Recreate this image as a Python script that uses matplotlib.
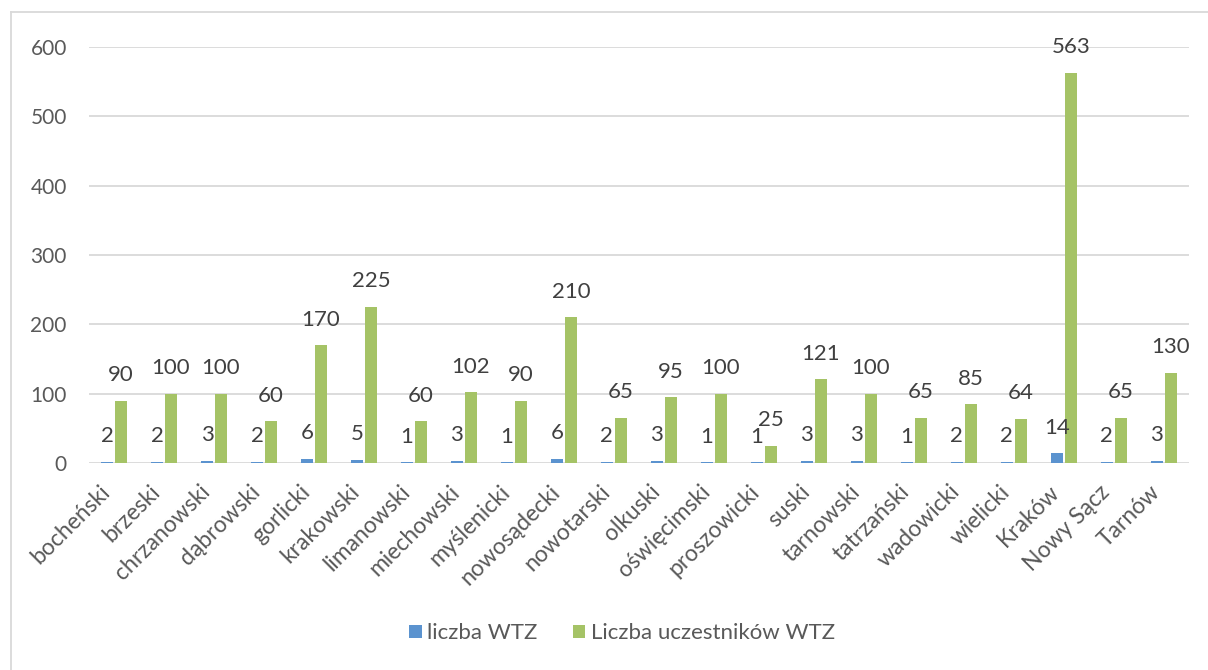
import numpy as np
import matplotlib
matplotlib.use("Agg")
import matplotlib.pyplot as plt
from matplotlib.lines import Line2D

plt.rcParams["font.family"] = ["Lato", "DejaVu Sans"]

powiaty = ["bocheński", "brzeski", "chrzanowski", "dąbrowski", "gorlicki",
           "krakowski", "limanowski", "miechowski", "myślenicki", "nowosądecki",
           "nowotarski", "olkuski", "oświęcimski", "proszowicki", "suski",
           "tarnowski", "tatrzański", "wadowicki", "wielicki", "Kraków",
           "Nowy Sącz", "Tarnów"]
liczbaWTZ = [2, 2, 3, 2, 6, 5, 1, 3, 1, 6, 2, 3, 1, 1, 3, 3, 1, 2, 2, 14, 2, 3]
uczestnicy = [90, 100, 100, 60, 170, 225, 60, 102, 90, 210, 65, 95, 100, 25,
              121, 100, 65, 85, 64, 563, 65, 130]
yTicks = [0, 100, 200, 300, 400, 500, 600]

blue = "#5b93cf"
green = "#a5c366"
textColor = "#595959"

fig = plt.figure(figsize=(12.08, 6.70), dpi=100)
ax = fig.add_axes([0.0737, 0.309, 0.9103, 0.621])

x = np.arange(len(powiaty))
w = 0.24
ax.bar(x - 0.14, liczbaWTZ, w, color=blue, label="liczba WTZ", zorder=3)
ax.bar(x + 0.14, uczestnicy, w, color=green, label="Liczba uczestników WTZ", zorder=3)

for i in range(len(powiaty)):
    ax.annotate(str(liczbaWTZ[i]), (x[i] - 0.14, liczbaWTZ[i]), xytext=(0, 14),
                textcoords="offset points", ha="center", va="baseline",
                fontsize=16, color="#404040", annotation_clip=False)
    ax.annotate(str(uczestnicy[i]), (x[i] + 0.14, uczestnicy[i]), xytext=(0, 14),
                textcoords="offset points", ha="center", va="baseline",
                fontsize=16, color="#404040", annotation_clip=False)

ax.set_xlim(-0.5, len(powiaty) - 0.5)
ax.set_ylim(0, 600)
ax.set_yticks(yTicks)
ax.set_yticklabels([str(v) for v in yTicks], fontsize=15, color=textColor)
ax.set_xticks(x)
ax.set_xticklabels(powiaty, rotation=45, ha="right", va="top", fontsize=16.5,
                   color=textColor)
ax.tick_params(axis="both", length=0)
ax.tick_params(axis="x", pad=13)
ax.tick_params(axis="y", pad=16)
ax.grid(axis="y", color="#d9d9d9", linewidth=1.3, zorder=0)
for s in ax.spines.values():
    s.set_visible(False)

leg = fig.legend(loc="center", bbox_to_anchor=(0.515, 0.055), ncol=2, frameon=False,
                 fontsize=16, handlelength=0.55, handleheight=0.55, handletextpad=0.25,
                 columnspacing=1.6)
for t in leg.get_texts():
    t.set_color(textColor)

# chart border (only left and top edge visible in the picture)
fig.add_artist(Line2D([11 / 1208, 11 / 1208], [0, 1 - 12 / 670], transform=fig.transFigure,
                      color="#d9d9d9", linewidth=1.3))
fig.add_artist(Line2D([11 / 1208, 1], [1 - 12 / 670, 1 - 12 / 670], transform=fig.transFigure,
                      color="#d9d9d9", linewidth=1.3))

fig.savefig("out.png", dpi=100)
